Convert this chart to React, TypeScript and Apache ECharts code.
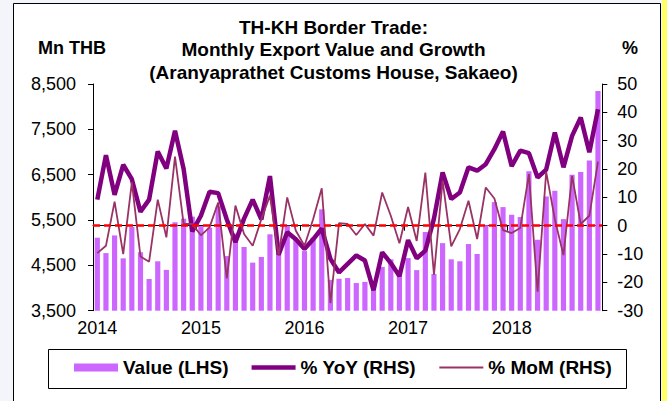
import React, { useEffect, useRef } from 'react';
import * as echarts from 'echarts';

const years = ['2014', '2015', '2016', '2017', '2018'];
const monthNums = ['01', '02', '03', '04', '05', '06', '07', '08', '09', '10', '11', '12'];
const categories: string[] = [];
years.forEach((y) => monthNums.forEach((m) => categories.push(`${y}-${m}`)));
categories.splice(59); // Jan 2014 - Nov 2018

const valueLHS = [
  5110, 4770, 5160, 4655, 5350, 4790, 4200, 4590, 4400, 5450, 5530, 5575,
  5370, 5330, 5800, 4705, 5200, 4905, 4560, 4685, 5185, 4770, 5375, 5060,
  4815, 5110, 5735, 4180, 4205, 4220, 4110, 4135, 3950, 4465, 4633, 4285,
  4660, 4395, 5235, 4310, 4990, 4633, 4590, 4970, 4750, 5385, 5895, 5785,
  5617, 5566, 6575, 5065, 6020, 6145, 5520, 6500, 6560, 6815, 8345,
];

const yoyRHS = [
  9.2, 24.9, 10.9, 21.5, 16.4, 4.9, 9.2, 26.2, 20.2, 33.5, 20.0, -2.0,
  3.5, 12.0, 11.5, 2.2, -5.8, 2.5, 9.2, 2.2, 17.5, -10.2, -2.3, -4.8,
  -8.2, -4.8, -1.0, -11.7, -16.5, -13.5, -10.5, -12.3, -22.8, -9.4, -13.2, -17.8,
  -5.1, -11.5, -8.8, 2.5, 18.8, 9.4, 11.7, 20.6, 19.4, 21.7, 27.0, 33.2,
  21.0, 26.5, 25.6, 17.0, 19.8, 32.9, 20.6, 31.7, 38.2, 25.9, 41.1,
];

const momRHS = [
  -9.7, -7.1, 8.5, -10.0, 15.3, -10.9, -12.7, 9.2, -4.1, 24.4, 0.6, 0.6,
  -3.4, -0.6, 8.2, -18.6, 7.1, -2.9, -7.1, 2.3, 10.6, -10.6, 10.0, -1.8,
  -7.1, 2.3, 13.2, -27.3, 0.9, 0.6, -3.3, 0.6, -3.5, 11.7, 3.5, -6.2,
  6.6, -5.4, 18.7, -17.3, 15.9, -7.3, -1.2, 8.8, -4.7, 13.5, 9.6, -1.6,
  -2.6, -0.8, 18.2, -23.3, 19.0, 2.3, -10.4, 17.6, 0.6, 3.5, 22.6,
];

const zeroLine = 0;

const FONT = '"Liberation Sans", Arial, sans-serif';

export default function App() {
  const ref = useRef<HTMLDivElement>(null);

  useEffect(() => {
    if (!ref.current) return;
    const chart = echarts.init(ref.current, undefined, { renderer: 'svg' });
    chart.setOption({
      animation: false,
      textStyle: { fontFamily: FONT },
      title: {
        text: 'TH-KH Border Trade:\nMonthly Export Value and Growth\n(Aranyaprathet Customs House, Sakaeo)',
        left: 'center',
        top: 16,
        padding: 0,
        textStyle: {
          fontFamily: FONT,
          fontSize: 19,
          fontWeight: 'bold',
          color: '#000',
          lineHeight: 22.5,
        },
      },
      graphic: [
        {
          type: 'rect',
          z: -10,
          silent: true,
          shape: { x: 13.5, y: 3.5, width: 647, height: 420 },
          style: { fill: '#ffffff', stroke: '#000000', lineWidth: 1 },
        },
        {
          type: 'rect',
          z: -10,
          silent: true,
          shape: { x: 662, y: 0, width: 5, height: 401 },
          style: { fill: '#ffff66' },
        },
        {
          type: 'rect',
          z: -10,
          silent: true,
          shape: { x: 48.5, y: 349.5, width: 578, height: 39 },
          style: { fill: '#ffffff', stroke: '#000000', lineWidth: 1 },
        },
        {
          type: 'text',
          x: 72,
          y: 48,
          style: {
            text: 'Mn THB',
            fontFamily: FONT,
            fontSize: 18,
            fontWeight: 'bold',
            fill: '#000',
            align: 'center',
            verticalAlign: 'middle',
          },
        },
        {
          type: 'text',
          x: 630,
          y: 48,
          style: {
            text: '%',
            fontFamily: FONT,
            fontSize: 18,
            fontWeight: 'bold',
            fill: '#000',
            align: 'center',
            verticalAlign: 'middle',
          },
        },
      ],
      legend: {
        left: 74,
        top: 358,
        padding: 0,
        itemWidth: 44,
        itemHeight: 8,
        itemGap: 23,
        symbolKeepAspect: true,
        textStyle: { fontFamily: FONT, fontSize: 19, fontWeight: 'bold', color: '#000' },
        data: [
          { name: 'Value (LHS)', icon: 'rect' },
          { name: '% YoY (RHS)', icon: 'path://M0 0H44V4.5H0Z' },
          { name: '% MoM (RHS)', icon: 'path://M0 0H44V1.8H0Z' },
        ],
      },
      grid: { left: 93, right: 64.7, top: 84, bottom: 90.3 },
      xAxis: {
        type: 'category',
        data: categories,
        boundaryGap: true,
        axisLine: { lineStyle: { color: '#000', width: 1 } },
        axisTick: { show: true, interval: 11, length: 5, lineStyle: { color: '#000' } },
        axisLabel: {
          interval: 11,
          formatter: (v: string) => v.slice(0, 4),
          fontFamily: FONT,
          fontSize: 18,
          color: '#000',
          margin: 8,
        },
        splitLine: { show: false },
      },
      yAxis: [
        {
          type: 'value',
          position: 'left',
          min: 3500,
          max: 8500,
          interval: 1000,
          axisLine: { show: true, lineStyle: { color: '#000', width: 1 } },
          axisTick: { show: true, length: 5, lineStyle: { color: '#000' } },
          splitLine: { show: false },
          axisLabel: {
            formatter: (v: number) => v.toLocaleString('en-US'),
            fontFamily: FONT,
            fontSize: 18,
            color: '#000',
            margin: 17,
          },
        },
        {
          type: 'value',
          position: 'right',
          min: -30,
          max: 50,
          interval: 10,
          axisLine: { show: true, lineStyle: { color: '#000', width: 1 } },
          axisTick: { show: true, length: 5, lineStyle: { color: '#000' } },
          splitLine: { show: false },
          axisLabel: {
            fontFamily: FONT,
            fontSize: 18,
            color: '#000',
            margin: 15,
          },
        },
      ],
      series: [
        {
          name: 'Value (LHS)',
          type: 'bar',
          yAxisIndex: 0,
          data: valueLHS,
          barWidth: '60%',
          itemStyle: { color: '#CC66FF' },
          z: 1,
        },
        {
          name: '% YoY (RHS)',
          type: 'line',
          yAxisIndex: 1,
          data: yoyRHS,
          symbol: 'none',
          lineStyle: { color: '#800080', width: 4.5 },
          itemStyle: { color: '#800080' },
          z: 3,
        },
        {
          name: '% MoM (RHS)',
          type: 'line',
          yAxisIndex: 1,
          data: momRHS,
          symbol: 'none',
          lineStyle: { color: '#993366', width: 1.8 },
          itemStyle: { color: '#993366' },
          z: 4,
          markLine: {
            silent: true,
            symbol: ['none', 'none'],
            label: { show: false },
            lineStyle: { color: '#FF0000', type: [7, 4], width: 2.5, opacity: 1 },
            emphasis: { disabled: true },
            data: [{ yAxis: zeroLine }],
          },
        },
      ],
    });
    return () => chart.dispose();
  }, []);

  return (
    <div
      style={{
        position: 'fixed',
        left: 0,
        top: 0,
        width: 667,
        height: 401,
        background: '#f4f5fa',
      }}
    >
      <div ref={ref} style={{ width: 667, height: 401 }} />
    </div>
  );
}
